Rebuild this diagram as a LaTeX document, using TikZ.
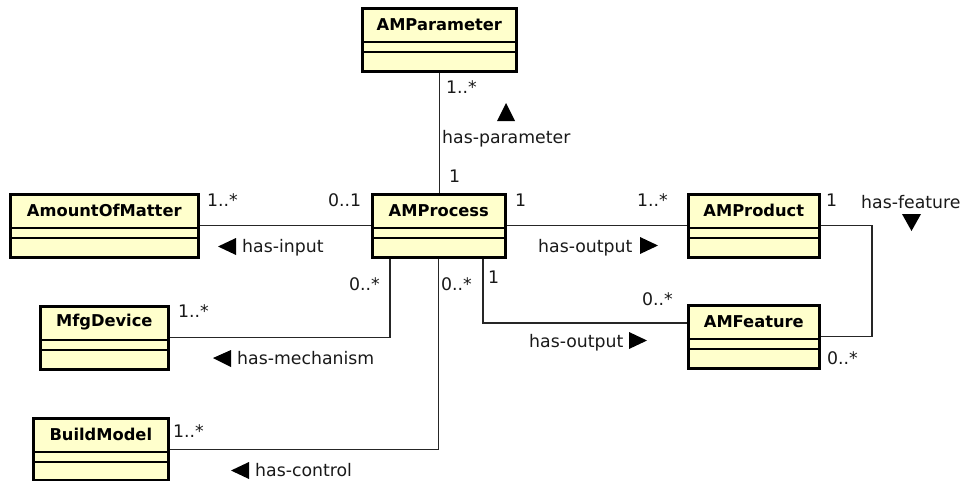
\documentclass[tikz,border=0pt]{standalone}
\usepackage{fontspec}
\setmainfont{DejaVu Sans}
\definecolor{umlfill}{RGB}{255,255,204}
\newcommand\lblfont{\fontsize{17.3}{19}\selectfont}
\newcommand\ttlfont{\fontsize{16.3}{18}\selectfont\bfseries}
\newcommand\umlbox[6]{%
  \node[cls, minimum width=#4pt, minimum height=#5pt] (#1) at (#2,#3) {};
  \node[ttl] (#1-t) at ([yshift=-17.5pt]#1.north) {#6};
  \draw[sepline] ([yshift=-35pt]#1.north west) -- ([yshift=-35pt]#1.north east);
  \draw[sepline] ([yshift=-45pt]#1.north west) -- ([yshift=-45pt]#1.north east);
}
\begin{document}
\begin{tikzpicture}[x=1pt,y=-1pt,
  cls/.style={draw, line width=2.6pt, fill=umlfill, rectangle, inner sep=0pt, anchor=north west},
  ttl/.style={font=\ttlfont, inner sep=0pt},
  sepline/.style={line width=1.3pt},
  conn/.style={line width=1.1pt, draw=black!85},
  lbl/.style={font=\lblfont, inner sep=0pt, anchor=base west, text=black!90},
  tri/.style={fill=black}]
\useasboundingbox (0,0) rectangle (963,480);

% classes
\umlbox{amparam}{361}{7}{154}{63}{AMParameter}
\umlbox{aom}{9}{193}{188}{63}{AmountOfMatter}
\umlbox{amproc}{371}{193}{133}{63}{AMProcess}
\umlbox{amprod}{687}{193}{131}{63}{AMProduct}
\umlbox{amfeat}{687}{304}{131}{63}{AMFeature}
\umlbox{mfg}{39}{305}{128}{63}{MfgDevice}
\umlbox{bm}{32}{417}{135}{62}{BuildModel}

% helper coordinates
\coordinate (fr) at (872,0);
\coordinate (pf) at (483,0);
\coordinate (pm) at (390,0);
\coordinate (fin) at ([yshift=-19pt]amfeat.north west);

% connectors
\draw[conn] (amparam.south) -- (amparam.south |- amproc.north);
\draw[conn] (aom.east) -- (aom.east -| amproc.west);
\draw[conn] (amproc.east) -- (amproc.east -| amprod.west);
\draw[conn] (amprod.east) -- (amprod.east -| fr) -- (amfeat.east -| fr) -- (amfeat.east);
\draw[conn] (pf |- amproc.south) -- (pf |- fin) -- (fin);
\draw[conn] (pm |- amproc.south) -- (pm |- mfg.east) -- (mfg.east);
\draw[conn] (amproc.south) -- (amproc.south |- bm.east) -- (bm.east);

% labels
\node[lbl] (m1) at (446,93) {1..*};
\node[lbl] (n1) at (442,143) {has-parameter};
\node[lbl] (m2) at (449,182) {1};
\node[lbl] (m3) at (207,206) {1..*};
\node[lbl] (m4) at (328,206) {0..1};
\node[lbl] (n2) at (242,252) {has-input};
\node[lbl] (m5) at (515,206) {1};
\node[lbl] (m6) at (637,206) {1..*};
\node[lbl] (n3) at (538,252) {has-output};
\node[lbl] (m7) at (826,206) {1};
\node[lbl] (n4) at (861,208) {has-feature};
\node[lbl] (m8) at (488,283) {1};
\node[lbl] (m9) at (642,305) {0..*};
\node[lbl] (n5) at (529,347) {has-output};
\node[lbl] (m10) at (827,364) {0..*};
\node[lbl] (m11) at (349,290) {0..*};
\node[lbl] (m12) at (441,290) {0..*};
\node[lbl] (m13) at (178,317) {1..*};
\node[lbl] (n6) at (237,364) {has-mechanism};
\node[lbl] (m14) at (173,437) {1..*};
\node[lbl] (n7) at (255,476) {has-control};

% direction triangles
\fill[tri] (497,121) -- (515,121) -- (506,103) -- cycle;
\fill[tri] (218,246.5) -- (236,238) -- (236,255) -- cycle;
\fill[tri] (640,237) -- (640,254) -- (658,245.5) -- cycle;
\fill[tri] (902,214) -- (921,214) -- (911.5,231) -- cycle;
\fill[tri] (629,332) -- (629,349) -- (647,340.5) -- cycle;
\fill[tri] (213,358) -- (231,350) -- (231,367) -- cycle;
\fill[tri] (231,470.5) -- (249,462) -- (249,479) -- cycle;
\end{tikzpicture}
\end{document}
